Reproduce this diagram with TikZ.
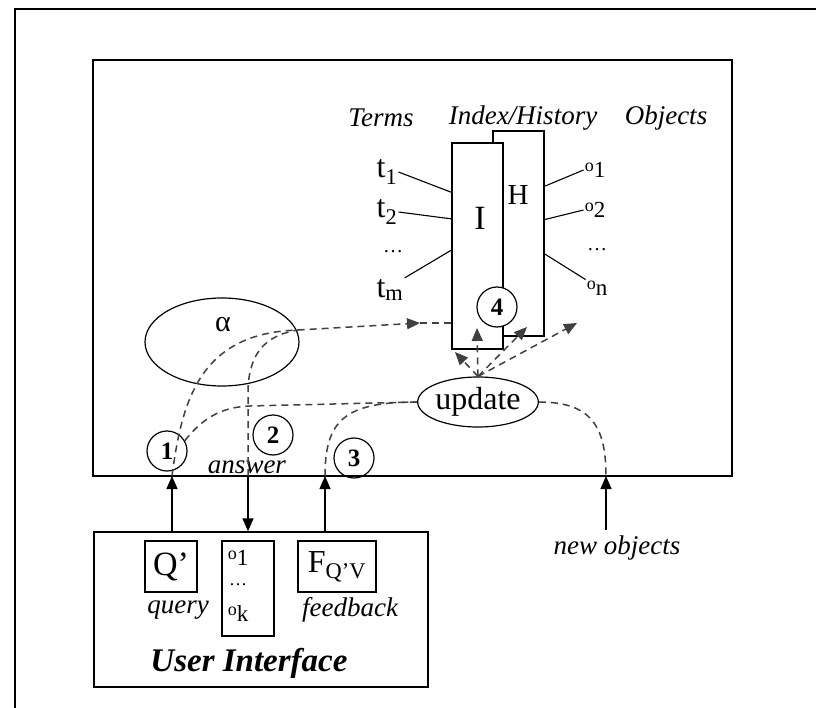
\documentclass[tikz,border=0pt]{standalone}
\usepackage{fontspec}
\setmainfont{Liberation Serif}
\usetikzlibrary{arrows.meta, shapes.geometric}

\newcommand{\fsz}[1]{\fontsize{#1}{#1}\selectfont}
\newcommand{\obj}[1]{{\fsz{23}\raisebox{6pt}{\fsz{18}o}#1}}

\begin{document}
\begin{tikzpicture}[x=1pt, y=-1pt, >={Triangle[length=13pt,width=11pt]},
  box/.style={draw, line width=1.4pt, inner sep=0pt},
  numcirc/.style={draw, circle, line width=1.2pt, minimum size=40pt, inner sep=0pt, font=\fsz{25}\bfseries},
  flow/.style={line width=1.5pt, black!75, dash pattern=on 7pt off 5pt},
  lab/.style={font=\fsz{27}\itshape, inner sep=0pt},
  term/.style={font=\fsz{32}, inner sep=1pt}]
  \useasboundingbox (0,0) rectangle (816,708);
  % outer frame
  \draw[line width=1.5pt] (15,708) -- (15,9) -- (816,9);
  % main box
  \node[box, minimum width=639, minimum height=416] (main) at (412.5,268) {};
  % index and history
  \node[box, fill=white, minimum width=51, minimum height=205] (H) at (518.5,233.5) {};
  \node[box, fill=white, minimum width=51, minimum height=206] (I) at (477.5,246) {};
  \node[font=\fsz{34}] (ilab) at (480,218) {I};
  \node[font=\fsz{29}] (hlab) at (518,195) {H};
  \node[lab] (terms) at (381,118) {Terms};
  \node[lab] (index) at (523,118) {Index/History};
  \node[lab] (objs) at (666,118) {Objects};
  % terms
  \node[term] (t1) at (387,172) {t\textsubscript{1}};
  \node[term] (t2) at (387,212) {t\textsubscript{2}};
  \node[font=\fsz{20}] (tdots) at (393,252) {\dots};
  \node[term] (tm) at (390,290) {t\textsubscript{m}};
  \draw[line width=1.1pt] (t1.east) -- (I.116);
  \draw[line width=1.1pt] (t2.east) -- (I.134);
  \draw[line width=1.1pt] (tm.north east) -- (I.189);
  % objects
  \node[inner sep=1pt] (o1) at (595,170) {\obj{1}};
  \node[inner sep=1pt] (o2) at (595,210) {\obj{2}};
  \node[font=\fsz{20}] (odots) at (597,250) {\dots};
  \node[inner sep=1pt] (on) at (597,288) {\obj{n}};
  \draw[line width=1.1pt] (H.61) -- (o1.west);
  \draw[line width=1.1pt] (H.28) -- (o2.west);
  \draw[line width=1.1pt] (H.322) -- (on.north west);
  % alpha and update
  \node[draw, ellipse, line width=1.2pt, minimum width=154, minimum height=88, inner sep=0pt] (alpha) at (222,342) {};
  \node[font=\fsz{30}] (alab) at (223,325) {α};
  \node[draw, ellipse, line width=1.2pt, minimum width=104, minimum height=50, inner sep=0pt, font=\fsz{32}] (update) at (478,402) {update};
  % steps
  \node[numcirc] (one) at (167,451) {1};
  \node[numcirc] (two) at (273,435) {2};
  \node[numcirc] (three) at (354,458) {3};
  \node[numcirc, fill=white] (four) at (497,307) {4};
  \node[lab] (ans) at (247,467) {answer};
  % user interface
  \node[box, minimum width=334, minimum height=155] (ui) at (261,609.5) {};
  \node[box, minimum width=52, minimum height=51, font=\fsz{34}] (qbox) at (171,566.5) {Q’};
  \node[box, minimum width=52, minimum height=95] (obox) at (248,588.5) {};
  \node[box, minimum width=78, minimum height=51, font=\fsz{32}] (fbox) at (337,566.5) {F\textsubscript{Q’V}};
  \node[inner sep=1pt] (ok1) at (238,558) {\obj{1}};
  \node[font=\fsz{18}] (okd) at (238,585) {\dots};
  \node[inner sep=1pt] (okk) at (238,614) {\obj{k}};
  \node[lab] (query) at (178,610) {query};
  \node[lab] (fb) at (350,610) {feedback};
  \node[font=\fsz{33}\bfseries\itshape] (uilab) at (249,663) {User Interface};
  \node[lab] (newobj) at (617,548) {new objects};
  % ends on the main box
  \coordinate (qin) at (172,476);
  \coordinate (ain) at (248,476);
  \coordinate (fin) at (325,476);
  \coordinate (nin) at (606,476);
  \coordinate (nout) at (606,530);
  \coordinate (ajoin) at (298,330);
  \coordinate (atip) at (420,323);
  \coordinate (u1) at (455,352);
  \coordinate (u2) at (477,328);
  \coordinate (u3) at (527,327);
  \coordinate (u4) at (577,323);
  % solid arrows
  \draw[line width=1.3pt, ->] (ui.north -| qin) -- (qin);
  \draw[line width=1.3pt, ->] (ain) -- (ui.north -| ain);
  \draw[line width=1.3pt, ->] (ui.north -| fin) -- (fin);
  \draw[line width=1.3pt, ->] (nout) -- (nin);
  % dashed flows
  \draw[flow, ->] (qin) .. controls (182,400) and (200,333) .. (ajoin) -- (atip);
  \draw[flow] (atip) -- (I.west |- atip);
  \draw[flow] (ain) -- (248,388) .. controls (250,350) and (268,335) .. (ajoin);
  \draw[flow] (one.30) .. controls (205,415) and (225,407) .. (250,406) -- (update.west);
  \draw[flow] (fin) .. controls (325,420) and (345,402) .. (update.west);
  \draw[flow] (update.east) .. controls (590,402) and (606,425) .. (nin);
  \foreach \t in {u1,u2,u3,u4}
    \draw[flow, ->] (update.north) -- (\t);
\end{tikzpicture}
\end{document}
